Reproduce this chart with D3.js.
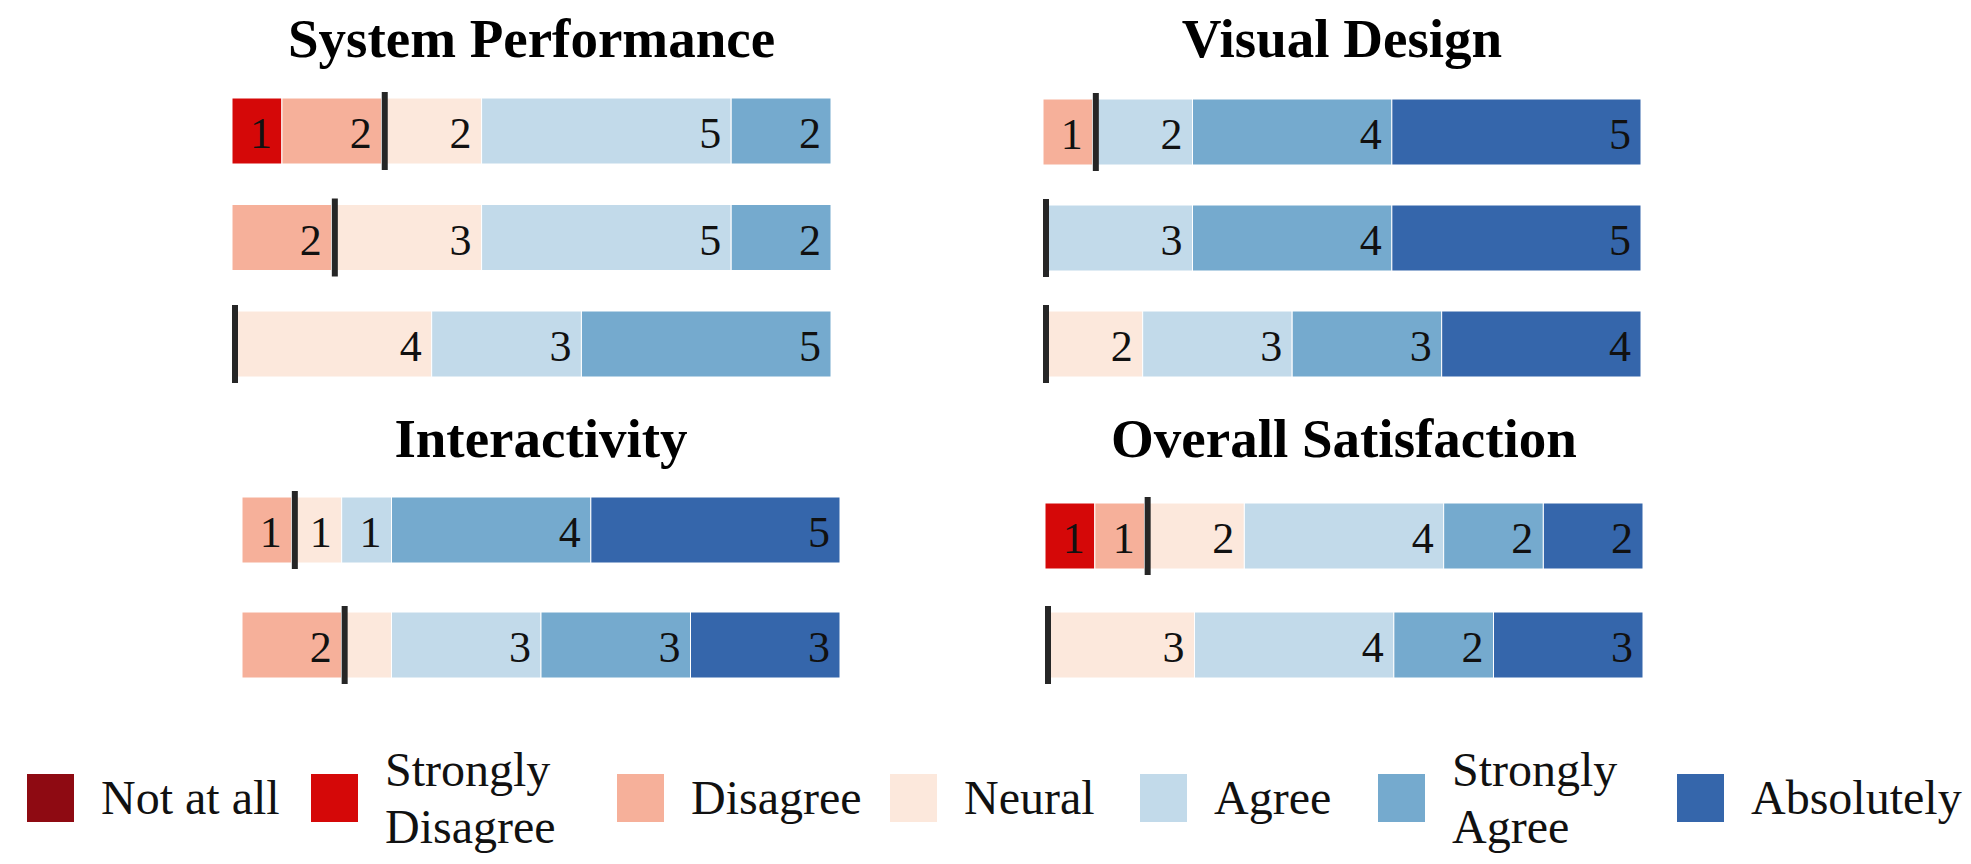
<!DOCTYPE html>
<html>
<head>
<meta charset="utf-8">
<script src="https://cdn.jsdelivr.net/npm/d3@7"></script>
<style>
  html, body { margin: 0; padding: 0; background: #fff; }
  svg { display: block; }
</style>
</head>
<body>
<div id="chart"></div>
<script>
// Likert levels, left (negative) to right (positive)
const levels = ["Not at all", "Strongly Disagree", "Disagree", "Neural", "Agree", "Strongly Agree", "Absolutely"];
const legendLines = [["Not at all"], ["Strongly", "Disagree"], ["Disagree"], ["Neural"], ["Agree"], ["Strongly", "Agree"], ["Absolutely"]];
const colors = ["#8e0a12", "#d50808", "#f6b09a", "#fce8dc", "#c2daea", "#75aace", "#3566ab"];

const panelTitles = ["System Performance", "Visual Design", "Interactivity", "Overall Satisfaction"];

// counts per row, one entry per level
const systemPerformance = [
    [0, 1, 2, 2, 5, 2, 0],
    [0, 0, 2, 3, 5, 2, 0],
    [0, 0, 0, 4, 3, 5, 0]
];
const visualDesign = [
    [0, 0, 1, 0, 2, 4, 5],
    [0, 0, 0, 0, 3, 4, 5],
    [0, 0, 0, 2, 3, 3, 4]
];
const interactivity = [
    [0, 0, 1, 1, 1, 4, 5],
    [0, 0, 2, 1, 3, 3, 3]
];
const overallSatisfaction = [
    [0, 1, 1, 2, 4, 2, 2],
    [0, 0, 0, 3, 4, 2, 3]
];
// segments printed without a number in the original
const unlabeled = [["Interactivity", 1, "Neural"]];

const panelData = [systemPerformance, visualDesign, interactivity, overallSatisfaction];
const nRespondents = 12;

const W = 1971, H = 864;
const FONT = "'Liberation Serif', 'Times New Roman', serif";
const barH = 66;

// panel frames
const frames = [
    { x0: 232, x1: 831, top: 98, bottom: 377, titleY: 57 },
    { x0: 1043, x1: 1641, top: 99, bottom: 377, titleY: 57 },
    { x0: 242, x1: 840, top: 497, bottom: 678, titleY: 457 },
    { x0: 1045, x1: 1643, top: 503, bottom: 678, titleY: 457 }
];
// legend item left edges
const legendX = [27, 311, 617, 890, 1140, 1378, 1677];

const svg = d3.select("#chart").append("svg")
    .attr("width", W)
    .attr("height", H)
    .attr("viewBox", `0 0 ${W} ${H}`);

const color = d3.scaleOrdinal().domain(levels).range(colors);

panelData.forEach((rows, pi) => {
    const f = frames[pi];
    const title = panelTitles[pi];
    const x = d3.scaleLinear().domain([0, nRespondents]).range([f.x0, f.x1]);
    const n = rows.length;
    const L = f.bottom - f.top;
    const pad = (L - barH * n) / (L - barH);
    const y = d3.scaleBand().domain(d3.range(n)).range([f.top, f.bottom]).paddingInner(pad);

    const g = svg.append("g").attr("class", "panel");

    g.append("text")
        .attr("x", (f.x0 + f.x1) / 2)
        .attr("y", f.titleY)
        .attr("text-anchor", "middle")
        .style("font-family", FONT)
        .style("font-weight", "bold")
        .style("font-size", "55px")
        .text(title);

    rows.forEach((vals, ri) => {
        let acc = 0;
        const segs = vals.map((v, li) => {
            const s = { level: levels[li], value: v, start: acc, end: acc + v };
            acc += v;
            return s;
        }).filter(s => s.value > 0);

        const row = g.append("g");
        row.selectAll("rect")
            .data(segs)
            .enter().append("rect")
            .attr("x", d => x(d.start))
            .attr("y", y(ri))
            .attr("width", d => x(d.end) - x(d.start))
            .attr("height", y.bandwidth())
            .attr("fill", d => color(d.level))
            .attr("stroke", "#fff")
            .attr("stroke-width", 1);

        row.selectAll("text")
            .data(segs.filter(s => !unlabeled.some(u => u[0] === title && u[1] === ri && u[2] === s.level)))
            .enter().append("text")
            .attr("x", d => x(d.end) - 10)
            .attr("y", y(ri) + y.bandwidth() / 2 + 17)
            .attr("text-anchor", "end")
            .style("font-family", FONT)
            .style("font-size", "44px")
            .attr("fill", "#111")
            .text(d => d.value);

        // marker between negative answers and the rest
        const neg = d3.sum(vals.slice(0, 3));
        const mx = x(neg) + 3;
        row.append("line")
            .attr("x1", mx).attr("x2", mx)
            .attr("y1", y(ri) - 6)
            .attr("y2", y(ri) + y.bandwidth() + 6)
            .attr("stroke", "#262626")
            .attr("stroke-width", 6);
    });
});

// legend
const legendY = 798, sw = 47, sh = 48;
const legend = svg.append("g").attr("class", "legend");
const items = legend.selectAll("g")
    .data(levels)
    .enter().append("g")
    .attr("transform", (d, i) => `translate(${legendX[i]},0)`);

items.append("rect")
    .attr("width", sw)
    .attr("height", sh)
    .attr("y", legendY - sh / 2)
    .attr("fill", d => color(d));

items.each(function (d, i) {
    const lines = legendLines[i];
    const t = d3.select(this).append("text")
        .style("font-family", FONT)
        .style("font-size", "48px")
        .attr("fill", "#111");
    const lh = 57;
    lines.forEach((ln, k) => {
        t.append("tspan")
            .attr("x", sw + 27)
            .attr("y", legendY + 16 + (k - (lines.length - 1) / 2) * lh)
            .text(ln);
    });
});
</script>
</body>
</html>
